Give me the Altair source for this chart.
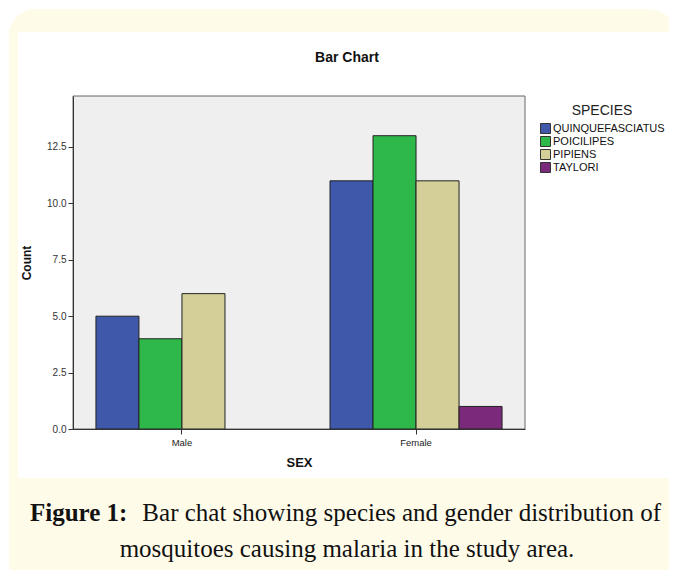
import altair as alt
import pandas as pd

# ---- data ----
sex = ["Male", "Male", "Male", "Female", "Female", "Female", "Female"]
species = ["QUINQUEFASCIATUS", "POICILIPES", "PIPIENS",
           "QUINQUEFASCIATUS", "POICILIPES", "PIPIENS", "TAYLORI"]
counts = [5, 4, 6, 11, 13, 11, 1]

sex_order = ["Male", "Female"]
species_order = ["QUINQUEFASCIATUS", "POICILIPES", "PIPIENS", "TAYLORI"]
species_colors = ["#3f58a9", "#2eb84a", "#d4cf98", "#7b2a7b"]
y_ticks = [0, 2.5, 5, 7.5, 10, 12.5]

chart_title = "Bar Chart"
caption_bold = "Figure 1:"
caption_line1 = "Bar chat showing species and gender distribution of"
caption_line2 = "mosquitoes causing malaria in the study area."

df = pd.DataFrame({"SEX": sex, "SPECIES": species, "Count": counts})

W, H = 452, 333
one = alt.Data(values=[{}])

# ---- decoration layers ----
cream = alt.Chart(one).mark_rect(color="#fffbe9", cornerRadius=26).encode(
    x=alt.value(-64), x2=alt.value(W + 150), y=alt.value(-87), y2=alt.value(H + 160))
white = alt.Chart(one).mark_rect(color="#ffffff").encode(
    x=alt.value(-55), x2=alt.value(W + 160), y=alt.value(-64), y2=alt.value(H + 49))
plotbg = alt.Chart(one).mark_rect(color="#efefef", stroke="#666666", strokeWidth=1).encode(
    x=alt.value(0), x2=alt.value(W), y=alt.value(0), y2=alt.value(H))

bars = alt.Chart(df).mark_bar(stroke="#222222", strokeWidth=1).encode(
    x=alt.X("SEX:N", sort=sex_order,
            scale=alt.Scale(domain=sex_order, paddingInner=0.265, paddingOuter=0.098),
            axis=alt.Axis(title="SEX", labelAngle=0, labelFontSize=9.5, labelColor="#222",
                          labelFont="Liberation Sans", tickSize=5, tickColor="#333",
                          domainColor="#333", labelPadding=3,
                          titleFont="Liberation Sans", titleFontSize=13,
                          titleFontWeight="bold", titleColor="#111", titlePadding=10,
                          zindex=1)),
    xOffset=alt.XOffset("SPECIES:N", sort=species_order,
                        scale=alt.Scale(domain=species_order, paddingInner=0, paddingOuter=0)),
    y=alt.Y("Count:Q", scale=alt.Scale(domain=[0, 14.76], nice=False, zero=True),
            axis=alt.Axis(title="Count", values=y_ticks, format=".1f", grid=False,
                          labelFontSize=10, labelColor="#333", labelFont="Liberation Sans",
                          tickSize=5, tickColor="#333", domainColor="#333", labelPadding=2,
                          titleFont="Liberation Sans", titleFontSize=12,
                          titleFontWeight="bold", titleColor="#111", titlePadding=13,
                          zindex=1)),
    color=alt.Color("SPECIES:N", sort=species_order,
                    scale=alt.Scale(domain=species_order, range=species_colors),
                    legend=alt.Legend(title="SPECIES", orient="none", legendX=467, legendY=8,
                                      titleFont="Liberation Sans", titleFontSize=14,
                                      titleFontWeight="normal", titleColor="#222",
                                      titleAnchor="middle", titlePadding=5,
                                      labelFont="Liberation Sans", labelFontSize=11,
                                      labelColor="#111", labelLimit=300, labelOffset=2,
                                      symbolType="square", symbolSize=100,
                                      symbolStrokeColor="#333", symbolStrokeWidth=1,
                                      symbolOpacity=1, rowPadding=-3)),
)

title_txt = alt.Chart(one).mark_text(
    text=chart_title, font="Liberation Sans", fontSize=14, fontWeight="bold",
    color="#111", align="center", baseline="middle").encode(
    x=alt.value(274), y=alt.value(-38))

cap_bold = alt.Chart(one).mark_text(
    text=caption_bold, font="Liberation Serif", fontSize=25, fontWeight="bold",
    color="#111", align="left", baseline="alphabetic").encode(
    x=alt.value(-43), y=alt.value(425))
cap_l1 = alt.Chart(one).mark_text(
    text=caption_line1, font="Liberation Serif", fontSize=25,
    color="#111", align="right", baseline="alphabetic").encode(
    x=alt.value(588), y=alt.value(425))
cap_l2 = alt.Chart(one).mark_text(
    text=caption_line2, font="Liberation Serif", fontSize=25,
    color="#111", align="center", baseline="alphabetic").encode(
    x=alt.value(274), y=alt.value(461))

chart = alt.layer(cream, white, plotbg, bars, title_txt, cap_bold, cap_l1, cap_l2).properties(
    width=W, height=H,
    autosize=alt.AutoSizeParams(type="none"),
    padding={"left": 65, "top": 88, "right": 144, "bottom": 141},
    background="#ffffff",
).configure_view(strokeWidth=0)

chart.save("out.html", embed_options={"renderer": "svg", "actions": False})
